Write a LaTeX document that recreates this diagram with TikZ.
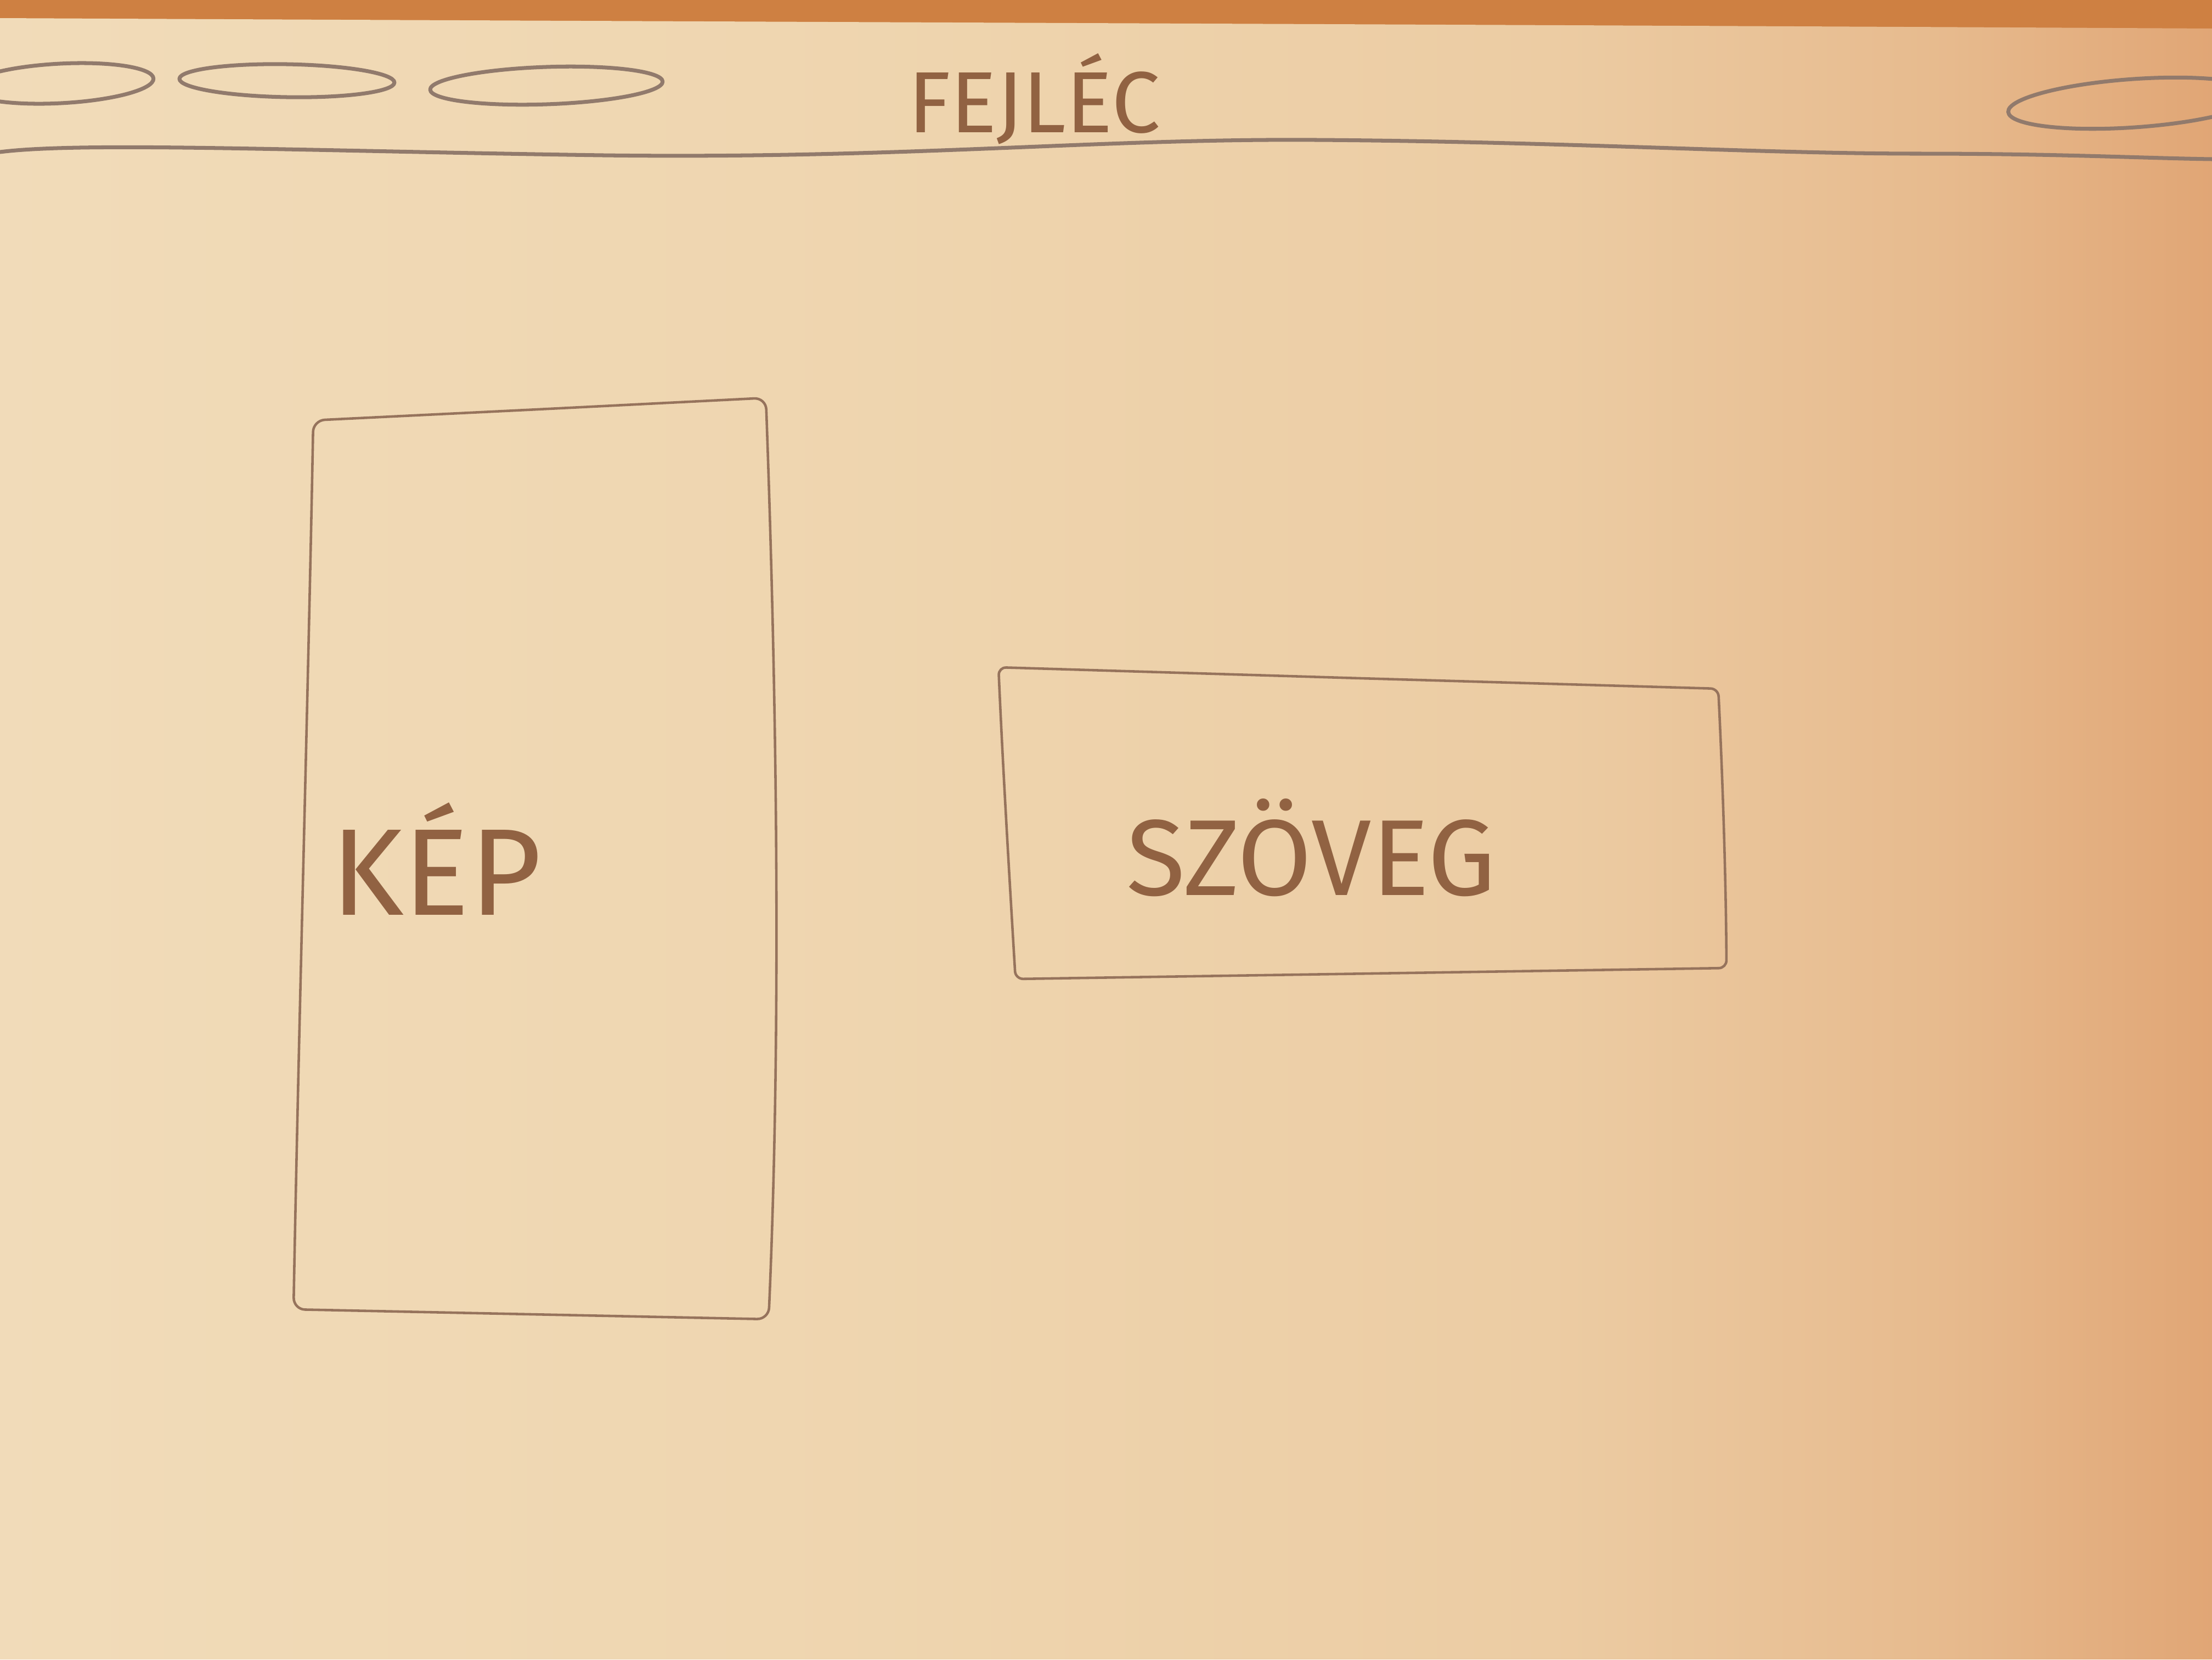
\documentclass[tikz,border=0pt]{standalone}
\usepackage{fontspec}
\setmainfont{Fira Sans}
\begin{document}
\definecolor{woodc}{RGB}{206,128,66}
\definecolor{pencilc}{RGB}{150,115,92}
\definecolor{pencilh}{RGB}{145,122,108}
\definecolor{inkc}{RGB}{145,98,66}
% paper lit from the left, darker towards the right edge
% (the 25bp..75bp band is what spans the sheet)
\pgfdeclarehorizontalshading{paperlight}{100bp}{
  rgb(0bp)=(0.945,0.860,0.725);
  rgb(25bp)=(0.945,0.860,0.725);
  rgb(45bp)=(0.935,0.835,0.685);
  rgb(60bp)=(0.925,0.800,0.640);
  rgb(69bp)=(0.905,0.730,0.555);
  rgb(75bp)=(0.880,0.650,0.460);
  rgb(100bp)=(0.880,0.650,0.460)}
\begin{tikzpicture}[x=1cm,y=1cm,
  pencil/.style={draw=pencilc, line width=1.3pt, line join=round, line cap=round},
  hpencil/.style={draw=pencilh, line width=2pt, line join=round, line cap=round},
  label/.style={text=inkc, inner sep=0pt, anchor=center}]
\useasboundingbox (0,0) rectangle (40.32,-30.24);
\clip (0,0) rectangle (40.32,-30.24);
% desk behind the sheet
\fill[woodc] (0,0) rectangle (40.32,-30.24);
% paper sheet
\shade[shading=paperlight]
  (0,-0.33) .. controls (14,-0.40) and (28,-0.45) .. (40.32,-0.52)
  -- (40.32,-30.24) -- (0,-30.24) -- cycle;

% header: round buttons on the left and right
\draw[hpencil, rotate around={3:(1.1,-1.52)}] (1.1,-1.52) ellipse (1.7 and 0.36);
\draw[hpencil, rotate around={-1:(5.23,-1.47)}] (5.23,-1.47) ellipse (1.96 and 0.30);
\draw[hpencil, rotate around={2:(9.96,-1.56)}] (9.96,-1.56) ellipse (2.12 and 0.34);
\draw[hpencil, rotate around={4:(38.9,-1.88)}] (38.9,-1.88) ellipse (2.3 and 0.44);

% header title
\node[label, font=\fontsize{45}{50}\selectfont] (title) at (18.85,-1.80) {FEJLÉC};

% header bottom rule
\coordinate (hl) at (0,-2.77);
\coordinate (hr) at (40.32,-2.90);
\draw[hpencil] (hl) .. controls (1.5,-2.58) and (5.5,-2.75) .. (11.0,-2.83)
  .. controls (16.5,-2.90) and (20.0,-2.52) .. (24.0,-2.55)
  .. controls (28.5,-2.58) and (32.0,-2.80) .. (35.0,-2.80)
  .. controls (37.5,-2.80) and (39.0,-2.88) .. (hr);

% image placeholder box
\coordinate (k1) at (5.71,-7.66);
\coordinate (k2) at (13.96,-7.25);
\coordinate (k3) at (14.01,-24.04);
\coordinate (k4) at (5.35,-23.86);
\coordinate (kt) at (9.8,-7.46);
\draw[pencil, rounded corners=6pt] (kt) -- (k2)
  .. controls (14.15,-12.5) and (14.25,-18.5) .. (k3)
  -- (k4) .. controls (5.45,-18.5) and (5.62,-12.5) .. (k1) -- cycle;
\node[label, font=\fontsize{64}{70}\selectfont] (kep) at (7.95,-15.65) {KÉP};

% text placeholder box
\coordinate (s1) at (18.20,-12.16);
\coordinate (s2) at (31.32,-12.55);
\coordinate (s3) at (31.47,-17.64);
\coordinate (s4) at (18.51,-17.84);
\coordinate (st) at (24.8,-12.36);
\draw[pencil, rounded corners=4pt] (st) -- (s2)
  .. controls (31.40,-14.2) and (31.46,-16.0) .. (s3)
  -- (s4) .. controls (18.40,-16.0) and (18.28,-14.0) .. (s1) -- cycle;
\node[label, font=\fontsize{56}{62}\selectfont] (szoveg) at (23.90,-15.45) {SZÖVEG};
\end{tikzpicture}
\end{document}
